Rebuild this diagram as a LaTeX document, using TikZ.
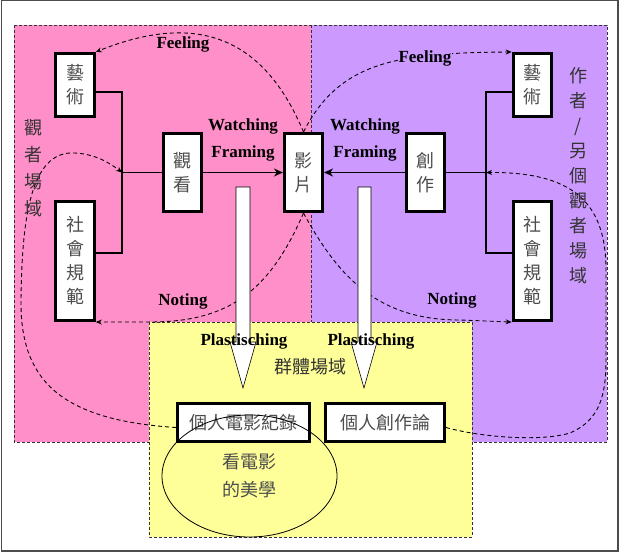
\documentclass[tikz,border=0pt]{standalone}
\usepackage{fontspec}
\setmainfont{Liberation Serif}
\newfontfamily\cjk{Noto Sans CJK TC}
\usetikzlibrary{arrows.meta,shapes.geometric}
\definecolor{pinkbg}{RGB}{255,143,200}
\definecolor{purplebg}{RGB}{204,153,255}
\definecolor{yellowbg}{RGB}{255,255,153}
\begin{document}
\begin{tikzpicture}[x=1pt,y=-1pt,
  region/.style={draw=black!80, dash pattern=on 3pt off 2pt, line width=0.8pt},
  box/.style={draw=black, line width=3.1pt, fill=white, inner sep=0pt, font=\cjk\fontsize{18}{24}\selectfont, text=black!70, align=center},
  lbl/.style={font=\bfseries\fontsize{17}{20}\selectfont, inner sep=1pt},
  cjklbl/.style={font=\cjk\fontsize{18}{27}\selectfont, text=black!80, align=center, inner sep=0pt},
  conn/.style={line width=1.9pt},
  flow/.style={conn, -{Stealth[length=9pt,width=8pt]}},
  dflow/.style={line width=0.9pt, dash pattern=on 4pt off 3pt, -{Stealth[length=6pt,width=5pt]}},
  block/.style={draw=black, line width=0.6pt, fill=white},
]
\useasboundingbox (0,0) rectangle (625,554);
\draw[black!70, line width=1.2pt] (1.2,0.6) rectangle (618,551);

% regions
\fill[pinkbg] (14,25) rectangle (311,442);
\draw[region] (14,25) rectangle (311,442);
\fill[purplebg] (311,25) rectangle (607,442);
\draw[region] (311,25) rectangle (607,442);
\fill[yellowbg] (149,322) rectangle (472,537);
\draw[region] (149,322) rectangle (472,537);

% boxes
\node[box, minimum width=38.5pt, minimum height=63pt] (artL) at (75,85) {藝\\術};
\node[box, minimum width=38.5pt, minimum height=119pt] (socL) at (75,261) {社\\會\\規\\範};
\node[box, minimum width=38pt, minimum height=78pt] (watch) at (182.5,172.5) {觀\\看};
\node[box, minimum width=38pt, minimum height=78pt] (film) at (303.5,172.5) {影\\片};
\node[box, minimum width=38pt, minimum height=78pt] (create) at (425.5,172.5) {創\\作};
\node[box, minimum width=38.5pt, minimum height=63pt] (artR) at (532.5,85) {藝\\術};
\node[box, minimum width=38.5pt, minimum height=119pt] (socR) at (532.5,261) {社\\會\\規\\範};
\node[box, minimum width=132pt, minimum height=38pt] (rec) at (243.5,422.5) {個人電影紀錄};
\node[box, minimum width=119pt, minimum height=38pt] (theory) at (385,422.5) {個人創作論};

\coordinate (jL) at (122,172.5);
\coordinate (jR) at (486,172.5);

% dashed curves
\draw[dflow] (film.north) .. controls (265,40) and (200,10) .. (artL.north east);
\draw[dflow] (film.north) .. controls (340,60) and (400,53) .. (artR.north west);
\draw[dflow] ([yshift=-5pt]rec.west) .. controls (60,420) and (20,380) .. (21,300) .. controls (22,220) and (30,150) .. (75,153) .. controls (95,154) and (110,163) .. (jL);
\draw[dflow] ([yshift=-5pt]theory.east) .. controls (480,437) and (540,442) .. (570,433) .. controls (600,420) and (606,395) .. (606,360) -- (606,270) .. controls (606,200) and (570,172) .. (jR);
\draw[dflow] (film.south) .. controls (270,290) and (230,322) .. (150,322) -- (socL.south east);
\draw[dflow] (film.south) .. controls (340,280) and (380,320) .. (460,320) -- (socR.south west);

% solid connectors
\draw[conn] ([yshift=-7pt]artL.east) -| ([yshift=8pt]socL.east -| jL) -- ([yshift=8pt]socL.east);
\draw[conn] (jL) -- (watch.west);
\draw[flow] (watch.east) -- (film.west);
\draw[flow] (create.west) -- (film.east);
\draw[conn] ([yshift=-7pt]artR.west) -| ([yshift=8pt]socR.west -| jR) -- ([yshift=8pt]socR.west);
\draw[conn] (jR) -- (create.east);

% block arrows
\draw[block] (236,187) -- (250,187) -- (250,342) -- (256,342) -- (243,388) -- (230,342) -- (236,342) -- cycle;
\draw[block] (358,187) -- (371,187) -- (371,342) -- (377,342) -- (364,388) -- (351,342) -- (358,342) -- cycle;

% ellipse
\node[draw, ellipse, line width=0.8pt, minimum width=175pt, minimum height=122pt, inner sep=0pt,
      font=\cjk\fontsize{18}{28}\selectfont, text=black!70, align=center] (aes) at (249.5,476) {看電影\\的美學};

% labels
\node[lbl] (feelL) at (183,44) {Feeling};
\node[lbl, fill=purplebg] (feelR) at (425,58) {Feeling};
\node[lbl] (watchL) at (243,126) {Watching};
\node[lbl] (frameL) at (243,153) {Framing};
\node[lbl] (watchR) at (365,126) {Watching};
\node[lbl] (frameR) at (365,153) {Framing};
\node[lbl] (noteL) at (183,301) {Noting};
\node[lbl] (noteR) at (452,300) {Noting};
\node[lbl] (plasL) at (244,341) {Plastisching};
\node[lbl] (plasR) at (371,341) {Plastisching};
\node[cjklbl] (grp) at (310,367) {群體場域};
\node[cjklbl] (viewF) at (33,168) {觀\\者\\場\\域};
\node[cjklbl, font=\cjk\fontsize{18}{25}\selectfont] (authF) at (578,176) {作\\者\\/\\另\\個\\觀\\者\\場\\域};
\end{tikzpicture}
\end{document}
